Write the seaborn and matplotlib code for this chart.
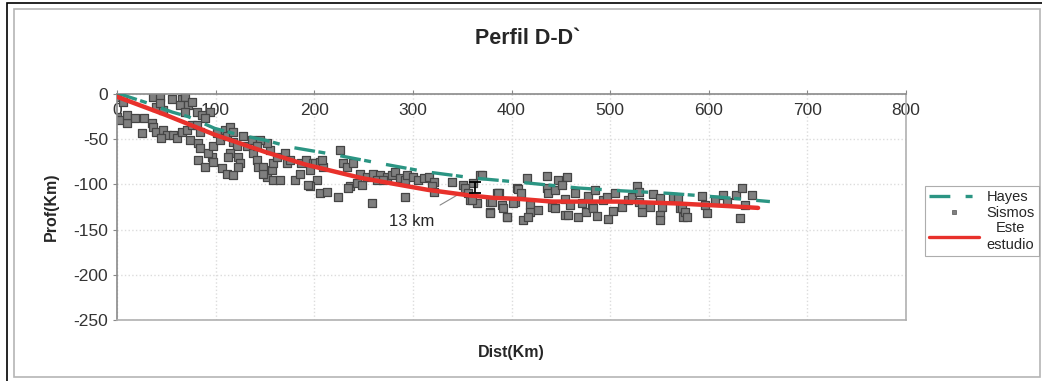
import numpy as np
import pandas as pd
import seaborn as sns
import matplotlib.pyplot as plt
from matplotlib.patches import Rectangle
from matplotlib.lines import Line2D

sns.set_style("white")
plt.rcParams['font.family'] = ['Liberation Sans', 'DejaVu Sans']
plt.rcParams['lines.scale_dashes'] = False
plt.rcParams['axes.unicode_minus'] = False

# Hayes slab model
hayes_x = [0, 31, 56, 72, 99, 123, 150, 177, 215, 263, 313, 362, 412, 468, 510, 561, 610, 662]
hayes_y = [1, -10, -20, -25, -38, -45, -51, -59, -66, -76, -86, -93, -98, -104, -107, -110, -114, -119]

# this study
este_x = [0, 49, 99, 150, 191, 248, 315, 356, 383, 407, 441, 508, 566, 620, 650]
este_y = [-3, -23, -45, -64, -78, -93, -106, -112, -115, -116, -119, -119, -121, -124, -126]

# earthquakes
sismos_x = [0, 6, 0, 3, 10, 10, 18, 25, 27, 35, 37, 44, 40, 47, 44, 56, 66, 69, 64, 72,
            76, 69, 81, 86, 94, 89, 37, 40, 47, 51, 45, 57, 61, 66, 71, 76, 81, 84, 74, 82,
            84, 82, 89, 96, 97, 92, 97, 104, 101, 110, 115, 112, 118, 118, 122, 115, 113, 123, 125, 123,
            106, 112, 118, 128, 132, 137, 138, 142, 143, 148, 152, 148, 157, 158, 165, 158, 162, 155, 152, 145,
            142, 170, 172, 175, 180, 186, 187, 192, 199, 196, 201, 206, 209, 208, 203, 196, 206, 213, 224, 226,
            229, 233, 239, 236, 243, 248, 246, 253, 260, 267, 274, 264, 270, 279, 282, 287, 292, 294, 300, 305,
            311, 316, 321, 319, 321, 340, 351, 361, 368, 387, 406, 194, 234, 259, 292, 358, 365, 378, 385, 378,
            390, 395, 404, 380, 378, 386, 391, 395, 402, 407, 410, 416, 419, 419, 412, 417, 427, 436, 436, 437,
            444, 447, 456, 451, 441, 444, 454, 454, 457, 459, 464, 467, 471, 476, 478, 482, 485, 483, 487, 493,
            497, 498, 503, 505, 512, 518, 522, 527, 529, 529, 532, 532, 540, 543, 551, 553, 551, 551, 564, 571,
            574, 569, 573, 576, 578, 593, 596, 598, 606, 614, 619, 628, 634, 644, 637, 632, 353, 356, 360, 370]
sismos_y = [-3, -9, -25, -29, -32, -23, -27, -43, -27, -32, -3, -3, -14, -18, -10, -5, -5, -3, -12, -12,
            -9, -20, -20, -23, -20, -27, -36, -42, -40, -45, -49, -45, -49, -42, -40, -34, -34, -42, -51, -54,
            -60, -73, -81, -70, -75, -65, -58, -51, -43, -40, -36, -47, -42, -53, -58, -65, -70, -70, -76, -81,
            -82, -88, -90, -47, -58, -51, -65, -73, -81, -81, -92, -88, -84, -95, -95, -76, -70, -62, -54, -51,
            -58, -65, -76, -73, -95, -88, -76, -73, -76, -84, -76, -75, -81, -73, -95, -102, -110, -108, -114, -62,
            -76, -81, -76, -102, -99, -101, -88, -92, -88, -90, -92, -95, -95, -90, -86, -93, -95, -90, -92, -95,
            -93, -92, -97, -102, -108, -97, -101, -99, -90, -110, -104, -101, -104, -121, -114, -117, -121, -119, -110, -130,
            -123, -136, -119, -119, -132, -109, -126, -136, -121, -105, -109, -93, -123, -131, -139, -136, -128, -91, -104, -109,
            -106, -95, -92, -101, -125, -126, -116, -134, -134, -123, -109, -136, -121, -131, -113, -123, -106, -126, -135, -117,
            -114, -138, -129, -109, -125, -117, -114, -102, -108, -119, -123, -131, -125, -111, -115, -125, -134, -139, -114, -126,
            -136, -115, -126, -131, -136, -113, -123, -132, -117, -112, -119, -112, -104, -112, -123, -137, -104, -110, -117, -90]

hayes = pd.DataFrame({'x': hayes_x, 'y': hayes_y})
este = pd.DataFrame({'x': este_x, 'y': este_y})
sismos = pd.DataFrame({'x': sismos_x, 'y': sismos_y})

teal = '#2b9583'
red = '#e8312b'

fig = plt.figure(figsize=(10.42, 3.81), dpi=100)
ax = fig.add_axes([117 / 1042, 1 - 320 / 381, (906 - 117) / 1042, (320 - 94) / 381])

sns.lineplot(data=hayes, x='x', y='y', ax=ax, color=teal, lw=2.4, estimator=None,
             linestyle=(0, (15, 2.5, 5, 11)), zorder=3)
sns.scatterplot(data=sismos, x='x', y='y', ax=ax, marker='s', s=26, color='#7f7f7f',
                edgecolor='#454545', linewidth=0.9, zorder=2)
sns.lineplot(data=este, x='x', y='y', ax=ax, color=red, lw=3.2, estimator=None, zorder=4)

# 13 km error bar
ax.errorbar([363], [-103.5], yerr=[[6.5], [6.5]], color='black', lw=1.3, capsize=4,
            capthick=1.3, zorder=5)
ax.annotate('13 km', xy=(351, -108), xytext=(299, -141), ha='center', va='center',
            fontsize=12, arrowprops=dict(arrowstyle='-', color='#888888', lw=0.8,
                                         shrinkA=8, shrinkB=0))

ax.set_xlim(0, 800)
ax.set_ylim(-250, 0)
ax.set_xticks(range(0, 801, 100))
ax.set_yticks(range(-250, 1, 50))
ax.xaxis.tick_top()
ax.tick_params(axis='x', top=True, bottom=False, labeltop=True, labelbottom=False,
               direction='out', length=3, pad=-20, labelsize=12.5, colors='#333333')
ax.tick_params(axis='y', left=True, direction='out', length=3, labelsize=12.5,
               colors='#333333')
ax.tick_params(axis='both', color='#888888')
ax.grid(True, color='#dcdcdc', linestyle=':', lw=1)
for side in ['top', 'left']:
    ax.spines[side].set_color('#8a8a8a')
    ax.spines[side].set_linewidth(1.2)
for side in ['right', 'bottom']:
    ax.spines[side].set_color('#b0b0b0')
    ax.spines[side].set_linewidth(1.2)

ax.xaxis.set_label_position('bottom')
ax.set_xlabel('Dist(Km)', fontsize=11.5, fontweight='bold', labelpad=18)
ax.set_ylabel('Prof(Km)', fontsize=11.5, fontweight='bold', labelpad=10)

fig.text(528 / 1042, 1 - 38 / 381, 'Perfil D-D`', ha='center', va='center',
         fontsize=15.5, fontweight='bold')

handles = [Line2D([], [], color=teal, lw=2.4, linestyle=(0, (15, 11, 5, 11))),
           Line2D([], [], color='#7f7f7f', marker='s', markersize=3.5, linestyle='none',
                  markeredgecolor='#555555', markeredgewidth=0.5),
           Line2D([], [], color=red, lw=2.4)]
leg = fig.legend(handles, ['Hayes', 'Sismos', 'Este\nestudio'], loc='center',
                 bbox_to_anchor=(982 / 1042, 1 - 221 / 381), fontsize=10.5, frameon=True,
                 fancybox=False, edgecolor='#999999', handlelength=3.4, borderpad=0.3,
                 labelspacing=0.1, handletextpad=0.5, borderaxespad=0)
leg.get_frame().set_linewidth(0.8)
for t in leg.get_texts():
    t.set_multialignment('center')

# chart frame
fig.patches.append(Rectangle((7 / 1042, -0.1), 1.2, 1 - 3 / 381 + 0.1, transform=fig.transFigure,
                             fill=False, edgecolor='black', lw=1.2))
fig.patches.append(Rectangle((14 / 1042, 4 / 381), 1026 / 1042, 368 / 381, transform=fig.transFigure,
                             fill=False, edgecolor='#b5b5b5', lw=1.2))

fig.savefig('out.png', dpi=100)
